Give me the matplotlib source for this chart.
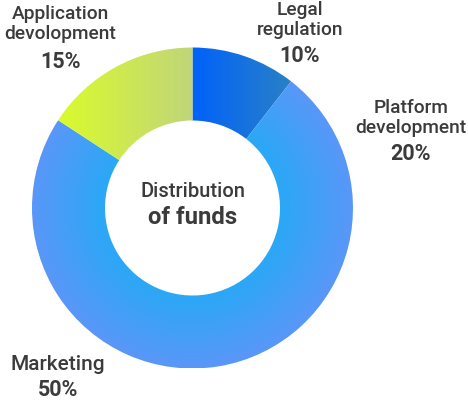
import numpy as np
import matplotlib.pyplot as plt
from matplotlib.patches import Wedge

labels = ["Legal\nregulation", "Platform\ndevelopment", "Marketing", "Application\ndevolopment"]
shares = [10, 20, 50, 15]
title_lines = ["Distribution", "of funds"]

# gradient colours per slice: (start, end, kind)
fills = [
    ("#0062fa", "#2a80c6", "x"),
    ("#2aa8f6", "#5a97f8", "r"),
    ("#2aa8f6", "#5a97f8", "r"),
    ("#dafb2c", "#c0d57a", "x"),
]

W, H = 468, 407
CX, CY, R = 192.5, 208, 160.5
hole = 87.5 / R

def at(px, py):
    return (px - CX) / R, (CY - py) / R

plt.rcParams['font.family'] = ['Roboto', 'DejaVu Sans']
ink = "#3b3b3b"

fig = plt.figure(figsize=(W / 100, H / 100), dpi=100)
ax = fig.add_axes([0, 0, 1, 1])

wedges, _ = ax.pie(shares, startangle=90, counterclock=False, radius=1,
                   wedgeprops=dict(width=1 - hole, edgecolor="none", linewidth=0))

n = 500
g = np.linspace(-1, 1, n)
xx, yy = np.meshgrid(g, g[::-1])
rho = np.hypot(xx, yy)

def hex2rgb(c):
    c = c.lstrip("#")
    return np.array([int(c[i:i + 2], 16) / 255 for i in (0, 2, 4)])

renderer = fig.canvas.get_renderer()

# platform + marketing share one radial fill with no seam: clip to one merged wedge
merged = Wedge((0, 0), 1, min(wedges[1].theta1, wedges[2].theta1),
               max(wedges[1].theta2, wedges[2].theta2), width=1 - hole,
               transform=ax.transData, facecolor="none", edgecolor="none")
ax.add_patch(merged)
clips = [wedges[0], merged, None, wedges[3]]

for w, clip, (c0, c1, kind) in zip(wedges, clips, fills):
    w.set_facecolor("none")
    if clip is None:
        continue
    if kind == "r":
        t = np.clip((rho - hole) / (1 - hole), 0, 1)
    else:
        ext = w.get_window_extent(renderer)
        lo, hi = ax.transData.inverted().transform([[ext.x0, 0], [ext.x1, 0]])[:, 0]
        t = np.clip((xx - lo) / (hi - lo), 0, 1)
    img = hex2rgb(c0)[None, None, :] * (1 - t[..., None]) + hex2rgb(c1)[None, None, :] * t[..., None]
    im = ax.imshow(img, extent=(-1, 1, -1, 1), interpolation="bilinear", zorder=1)
    im.set_clip_path(clip)

ax.set_aspect("auto")
ax.set_xlim((0 - CX) / R, (W - CX) / R)
ax.set_ylim((CY - H) / R, CY / R)
ax.axis("off")

# slice labels: (x, label centre y, percent centre y) in pixels
spots = [(300, 20, 56), (411, 118, 154), (58, 364, 390), (60, 24, 62)]
for lab, v, (px, py, pp) in zip(labels, shares, spots):
    size = 15 if "\n" not in lab else 13.8
    ax.text(*at(px, py), lab, ha="center", va="center", fontsize=size,
            color=ink, fontweight="medium", linespacing=1.08)
    ax.text(*at(px, pp), f"{v}%", ha="center", va="center", fontsize=15.5,
            color=ink, fontweight="bold")

ax.text(*at(193, 192), title_lines[0], ha="center", va="center",
        fontsize=14.5, color=ink, fontweight="medium")
ax.text(*at(193, 218), title_lines[1], ha="center", va="center",
        fontsize=17.2, color=ink, fontweight="bold")

fig.savefig("out.png", dpi=100)
